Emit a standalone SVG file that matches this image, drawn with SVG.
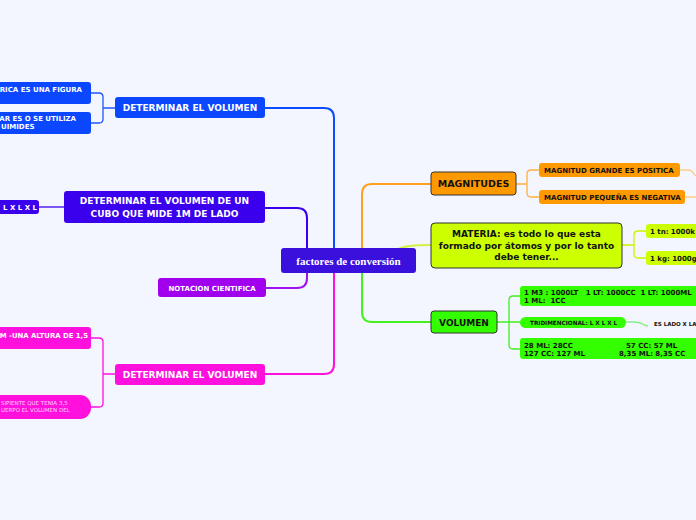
<svg xmlns="http://www.w3.org/2000/svg" width="696" height="520" viewBox="0 0 696 520" xml:space="preserve">
<style>
.t{font-family:"DejaVu Sans","Verdana",sans-serif;font-weight:bold;white-space:pre}
.w{fill:#ffffff}
.k{fill:#111111}
.c{fill:none;stroke-width:2;stroke-linecap:round}
.s{fill:none;stroke-width:1.3}
</style>
<rect width="696" height="520" fill="#f3f6fe"/>
<g id="connectors">
  <path class="c" stroke="#0a4cff" d="M265,108 H324 Q334,108 334,118 V248"/>
  <path class="c" stroke="#3a00ee" d="M265,208 H297 Q307,208 307,218 V248"/>
  <path class="c" stroke="#a010f0" d="M307,273 V278 Q307,288 297,288 H266"/>
  <path class="c" stroke="#ff10e0" d="M334,273 V364 Q334,374 324,374 H265"/>
  <path class="c" stroke="#ffa020" d="M362,248 V194 Q362,184 372,184 H431"/>
  <path class="c" stroke="#d4f040" d="M398,249 Q406,245 431,245"/>
  <path class="c" stroke="#44f020" d="M362,273 V312 Q362,322 372,322 H431"/>
  <path class="s" stroke="#2255ff" d="M115,108 H103 M91,93 H99 Q103,93 103,97 V119 Q103,123 99,123 H91"/>
  <path class="s" stroke="#3a00ee" d="M39,207 H64"/>
  <path class="s" stroke="#ff10e0" d="M115,374 H103 M91,338 H99 Q103,338 103,342 V403 Q103,407 99,407 H91"/>
  <path class="s" stroke="#ffb040" d="M516,184 H527 M539,170 H531 Q527,170 527,174 V193 Q527,197 531,197 H539"/>
  <path class="s" stroke="#ffcc88" d="M680,170 H688 Q692,170 694,174 L696,176 M685,197 H696"/>
  <path class="s" stroke="#d0f000" d="M622,245 H634 M646,231 H638 Q634,231 634,235 V254 Q634,258 638,258 H646"/>
  <path class="s" stroke="#44ee20" d="M497,322 H509 M520,296 H513 Q509,296 509,300 V345 Q509,349 513,349 H520 M509,322 H520"/>
  <path class="s" stroke="#88ee88" d="M626,322 H634 Q640,322 644,325 L648,326"/>
</g>
<g id="center">
  <rect x="281" y="248" width="135" height="25" rx="3" fill="#3a10dd"/>
  <text x="348.5" y="264.5" text-anchor="middle" font-family="Liberation Serif,serif" font-weight="bold" font-size="11" fill="#fff">factores de conversión</text>
</g>
<g id="n-det1">
  <rect x="115" y="97" width="150" height="21" rx="3" fill="#0a47ff"/>
  <text class="t w" x="190" y="111" text-anchor="middle" font-size="9">DETERMINAR EL VOLUMEN</text>
</g>
<g id="n-det1a">
  <rect x="-20" y="82" width="111" height="22" rx="3" fill="#0a47ff"/>
  <text class="t w" x="82" y="92" text-anchor="end" font-size="7">RICA ES UNA FIGURA</text>
</g>
<g id="n-det1b">
  <rect x="-20" y="112" width="111" height="22" rx="3" fill="#0a47ff"/>
  <text class="t w" x="76" y="121" text-anchor="end" font-size="7">AR ES O SE UTILIZA</text>
  <text class="t w" x="1" y="129" font-size="7">UIMIDES</text>
</g>
<g id="n-det2">
  <rect x="64" y="191" width="201" height="32" rx="3" fill="#3a00ee"/>
  <text class="t w" x="164.5" y="204" text-anchor="middle" font-size="9">DETERMINAR EL VOLUMEN DE UN</text>
  <text class="t w" x="164.5" y="217" text-anchor="middle" font-size="9">CUBO QUE MIDE 1M DE LADO</text>
</g>
<g id="n-det2a">
  <rect x="-10" y="200" width="49" height="14" rx="3" fill="#3a00ee"/>
  <text class="t w" x="37" y="210" text-anchor="end" font-size="7">L X L X L</text>
</g>
<g id="n-notacion">
  <rect x="158" y="278" width="108" height="19" rx="3" fill="#a000ee"/>
  <text class="t w" x="212" y="290.5" text-anchor="middle" font-size="7">NOTACION CIENTIFICA</text>
</g>
<g id="n-det3">
  <rect x="115" y="364" width="150" height="21" rx="3" fill="#ff10dd"/>
  <text class="t w" x="190" y="378" text-anchor="middle" font-size="9">DETERMINAR EL VOLUMEN</text>
</g>
<g id="n-det3a">
  <rect x="-20" y="327" width="111" height="22" rx="3" fill="#ff10dd"/>
  <text class="t w" x="88" y="338" text-anchor="end" font-size="6.9">M -UNA ALTURA DE 1,5</text>
</g>
<g id="n-det3b">
  <rect x="-20" y="395" width="111" height="24" rx="11" fill="#ff10dd"/>
  <text x="1" y="405" font-family="DejaVu Sans,sans-serif" font-size="5.5" fill="#ffd0f8">SIPIENTE  QUE TENIA 3,5</text>
  <text x="1" y="412" font-family="DejaVu Sans,sans-serif" font-size="5.5" fill="#ffd0f8">UERPO EL VOLUMEN DEL</text>
</g>
<g id="n-magnitudes">
  <rect x="431" y="172" width="85" height="23" rx="3" fill="#ff9900" stroke="#333" stroke-width="1"/>
  <text class="t k" x="473.5" y="187" text-anchor="middle" font-size="9.5">MAGNITUDES</text>
</g>
<g id="n-mag1">
  <rect x="539" y="163" width="141" height="14" rx="3" fill="#ff9900"/>
  <text class="t k" x="544" y="173" font-size="7">MAGNITUD GRANDE ES POSITICA</text>
</g>
<g id="n-mag2">
  <rect x="539" y="190" width="146" height="14" rx="3" fill="#ff9900"/>
  <text class="t k" x="544" y="200" font-size="7">MAGNITUD PEQUEÑA ES NEGATIVA</text>
</g>
<g id="n-materia">
  <rect x="431" y="223" width="191" height="45" rx="4" fill="#ccff00" stroke="#333" stroke-width="1"/>
  <text class="t k" x="526.5" y="237" text-anchor="middle" font-size="9">MATERIA: es todo lo que esta</text>
  <text class="t k" x="526.5" y="248.5" text-anchor="middle" font-size="9">formado por átomos y por lo tanto</text>
  <text class="t k" x="526.5" y="260" text-anchor="middle" font-size="9">debe tener...</text>
</g>
<g id="n-mat1">
  <rect x="646" y="224" width="60" height="14" rx="3" fill="#ccff00"/>
  <text class="t k" x="650" y="234" font-size="7">1 tn: 1000k</text>
</g>
<g id="n-mat2">
  <rect x="646" y="251" width="60" height="14" rx="3" fill="#ccff00"/>
  <text class="t k" x="650" y="261" font-size="7">1 kg: 1000g</text>
</g>
<g id="n-volumen">
  <rect x="431" y="311" width="66" height="22" rx="3" fill="#33ff00" stroke="#333" stroke-width="1"/>
  <text class="t k" x="464" y="325.5" text-anchor="middle" font-size="9">VOLUMEN</text>
</g>
<g id="n-vol1">
  <rect x="520" y="286" width="190" height="20" rx="3" fill="#33ff00"/>
  <text class="t k" x="524" y="295" font-size="7">1 M3 : 1000LT   1 LT: 1000CC  1 LT: 1000ML</text>
  <text class="t k" x="524" y="303" font-size="7">1 ML:  1CC</text>
</g>
<g id="n-vol2">
  <rect x="520" y="317" width="106" height="11" rx="5.5" fill="#33ff00"/>
  <text class="t k" x="530" y="325" font-size="5.7">TRIDIMENCIONAL: L X L X L</text>
</g>
<g id="n-vol2a">
  <text class="t k" x="654" y="326" font-size="5.5">ES LADO X LA</text>
</g>
<g id="n-vol3">
  <rect x="520" y="338" width="190" height="21" rx="3" fill="#33ff00"/>
  <text class="t k" x="524" y="348" font-size="7">28 ML: 28CC</text>
  <text class="t k" x="626" y="348" font-size="7">57 CC: 57 ML</text>
  <text class="t k" x="524" y="356" font-size="7">127 CC: 127 ML</text>
  <text class="t k" x="619" y="356" font-size="7">8,35 ML: 8,35 CC</text>
</g>
</svg>
